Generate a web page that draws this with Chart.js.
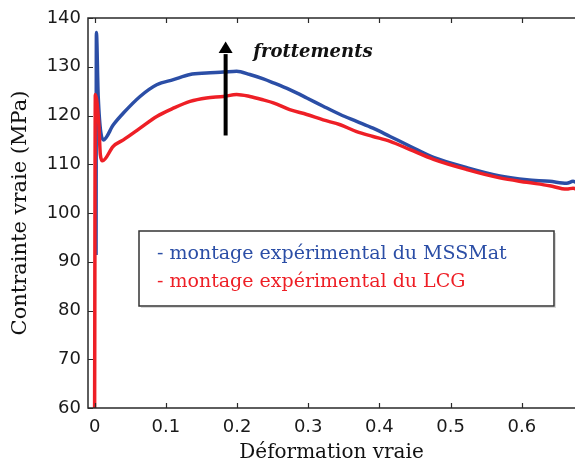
<!DOCTYPE html>
<html><head><meta charset="utf-8">
<script src="https://cdn.jsdelivr.net/npm/chart.js@4"></script>
<style>html,body{margin:0;padding:0;background:#fff;overflow:hidden}</style>
</head><body>
<canvas id="c" width="575" height="467"></canvas>
<script>
const seriesLabels = ['montage expérimental du MSSMat', 'montage expérimental du LCG'];
const strainMSSMat = [0.002,0.0025,0.005,0.0123,0.0263,0.0404,0.0638,0.0872,0.1106,0.134,0.157,0.181,0.1995,0.218,0.237,0.251,0.274,0.298,0.321,0.345,0.368,0.391,0.415,0.443,0.476,0.523,0.569,0.607,0.639,0.663,0.672,0.676];
const stressMSSMat = [91.4,137.0,124.0,115.0,118.1,120.5,123.9,126.3,127.35,128.4,128.7,128.9,129.1,128.4,127.5,126.7,125.3,123.6,121.9,120.2,118.8,117.4,115.7,113.7,111.4,109.3,107.6,106.8,106.5,106.1,106.5,106.3];
const strainLCG = [0.0,0.001,0.006,0.008,0.011,0.0263,0.0404,0.0638,0.0872,0.1106,0.134,0.157,0.181,0.1995,0.218,0.237,0.251,0.274,0.298,0.321,0.345,0.368,0.391,0.415,0.443,0.476,0.523,0.569,0.607,0.639,0.663,0.672,0.676];
const stressLCG = [60,124.3,118,112,110.7,113.7,115.0,117.4,119.8,121.5,122.9,123.6,123.9,124.3,123.9,123.2,122.6,121.2,120.2,119.1,118.1,116.7,115.7,114.7,113.0,111.0,108.9,107.2,106.3,105.6,104.9,105.1,104.9];
const xTickValues = [0, 0.1, 0.2, 0.3, 0.4, 0.5, 0.6];
const yTickValues = [60, 70, 80, 90, 100, 110, 120, 130, 140];
const xTitle = 'Déformation vraie';
const yTitle = 'Contrainte vraie (MPa)';
const annotationText = 'frottements';

const BLUE = '#2b4ea6', RED = '#ee1f26', AXIS = '#2a2a2a';
const seriesColors = [BLUE, RED];

const toPts = (xs, ys) => xs.map((x, i) => ({x, y: ys[i]}));

const framePlugin = {
  id: 'frame',
  afterDraw(chart) {
    const ctx = chart.ctx, a = chart.chartArea;
    const xs = chart.scales.x, ys = chart.scales.y;
    ctx.save();
    ctx.strokeStyle = AXIS; ctx.lineWidth = 1.5;
    ctx.beginPath();
    ctx.moveTo(chart.width + 5, a.top); ctx.lineTo(a.left, a.top);
    ctx.lineTo(a.left, a.bottom); ctx.lineTo(chart.width + 5, a.bottom);
    ctx.stroke();
    ctx.lineWidth = 1.2;
    ctx.beginPath();
    xTickValues.forEach(v => {
      const p = Math.round(xs.getPixelForValue(v)) + 0.5;
      ctx.moveTo(p, a.bottom); ctx.lineTo(p, a.bottom - 5);
      ctx.moveTo(p, a.top); ctx.lineTo(p, a.top + 5);
    });
    yTickValues.forEach(v => {
      const p = Math.round(ys.getPixelForValue(v)) + 0.5;
      ctx.moveTo(a.left, p); ctx.lineTo(a.left + 5, p);
    });
    ctx.stroke();

    // arrow annotation (in data coordinates)
    const ax = xs.getPixelForValue(0.184);
    const yBot = ys.getPixelForValue(115.9), yTop = ys.getPixelForValue(135.2), yBase = ys.getPixelForValue(132.8);
    ctx.strokeStyle = '#000'; ctx.fillStyle = '#000'; ctx.lineWidth = 4;
    ctx.beginPath(); ctx.moveTo(ax, yBot); ctx.lineTo(ax, yBase + 1); ctx.stroke();
    ctx.beginPath(); ctx.moveTo(ax, yTop); ctx.lineTo(ax - 7, yBase); ctx.lineTo(ax + 7, yBase); ctx.closePath(); ctx.fill();

    ctx.font = 'italic bold 18px "DejaVu Serif"';
    ctx.fillStyle = '#111'; ctx.textBaseline = 'alphabetic'; ctx.textAlign = 'left';
    ctx.fillText(annotationText, xs.getPixelForValue(0.2228), ys.getPixelForValue(132.1));

    // legend box
    const bx = 139, by = 231, bw = 415, bh = 75;
    ctx.fillStyle = '#fff'; ctx.fillRect(bx, by, bw, bh);
    ctx.strokeStyle = '#333'; ctx.lineWidth = 1.5;
    ctx.strokeRect(bx, by, bw, bh);
    ctx.strokeStyle = 'rgba(0,0,0,0.15)'; ctx.lineWidth = 1;
    ctx.beginPath(); ctx.moveTo(bx + 2, by + bh + 1.5); ctx.lineTo(bx + bw + 1.5, by + bh + 1.5); ctx.lineTo(bx + bw + 1.5, by + 2); ctx.stroke();
    ctx.font = '19px "DejaVu Serif"'; ctx.textBaseline = 'middle';
    seriesLabels.forEach((t, i) => {
      ctx.fillStyle = seriesColors[i];
      ctx.fillText('- ' + t, 157, 254 + i * 28);
    });
    ctx.restore();
  }
};

new Chart(document.getElementById('c'), {
  type: 'line',
  data: {
    datasets: [
      {label: seriesLabels[0], data: toPts(strainMSSMat, stressMSSMat), borderColor: BLUE, borderWidth: 3.5, pointRadius: 0, cubicInterpolationMode: 'monotone', order: 1},
      {label: seriesLabels[1], data: toPts(strainLCG, stressLCG), borderColor: RED, borderWidth: 3.5, pointRadius: 0, cubicInterpolationMode: 'monotone', order: 0}
    ]
  },
  options: {
    responsive: false, animation: false, devicePixelRatio: 1,
    layout: {padding: {top: 18, left: 0, right: 0, bottom: 0}},
    plugins: {legend: {display: false}, tooltip: {enabled: false}},
    scales: {
      x: {
        type: 'linear', min: -0.0093, max: 0.6747,
        afterBuildTicks: s => { s.ticks = xTickValues.map(v => ({value: v})); },
        afterFit: s => { s.height = 59; },
        grid: {display: false, drawTicks: false}, border: {display: false},
        ticks: {padding: 9, color: '#1a1a1a', font: {family: 'DejaVu Sans', size: 18}, maxRotation: 0,
          callback: v => String(v)},
        title: {display: true, text: xTitle, color: '#111', font: {family: 'DejaVu Serif', size: 20}, padding: {top: 0, bottom: 2}}
      },
      y: {
        min: 60, max: 140,
        afterBuildTicks: s => { s.ticks = yTickValues.map(v => ({value: v})); },
        afterFit: s => { s.width = 88; },
        grid: {display: false, drawTicks: false}, border: {display: false},
        ticks: {padding: 7, color: '#1a1a1a', font: {family: 'DejaVu Sans', size: 18}},
        title: {display: true, text: yTitle, color: '#111', font: {family: 'DejaVu Serif', size: 21}, padding: {top: 8, bottom: 0}}
      }
    }
  },
  plugins: [framePlugin]
});
</script>
</body></html>
